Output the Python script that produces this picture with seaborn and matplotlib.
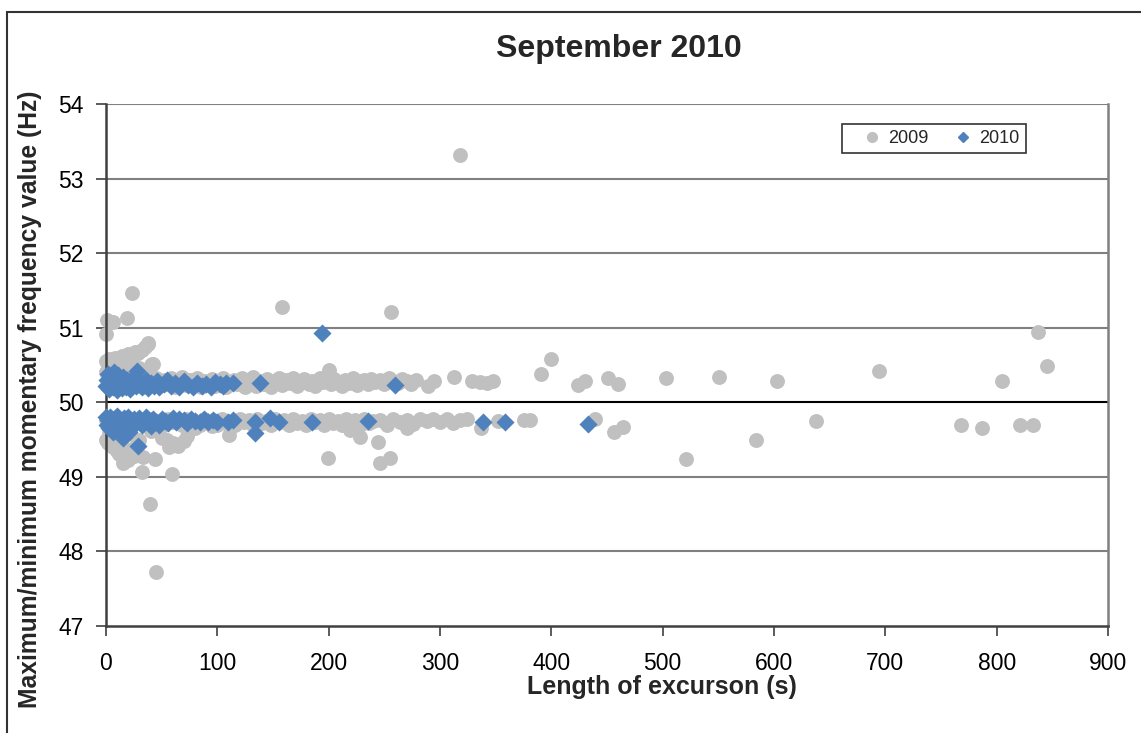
import matplotlib
matplotlib.use('Agg')
import matplotlib.pyplot as plt
import numpy as np
import pandas as pd
import seaborn as sns
from matplotlib.lines import Line2D
from matplotlib.patches import Rectangle

# 2009 excursions: length (s), max/min momentary frequency (Hz)
x_2009 = [
    # high outliers
    0.6, 6, 18.6, 23, 0, 38, 41, 158, 256, 318, 837, 845,
    # rising cloud near zero above the band
    0, 3, 6, 8, 11, 14, 17, 20, 23, 26, 29, 32, 35, 38,
    0, 5, 10, 15, 20, 25, 30, 35, 40, 42,
    # upper band
    2, 8, 14, 20, 26, 32, 38,
    45, 48, 52, 55, 58, 62, 65, 68, 72, 75, 78, 82, 85, 88, 92, 95, 98,
    102, 105, 108, 112, 115, 118, 122, 125, 128, 132, 135, 138, 142, 145,
    148, 152, 155, 158, 162, 165, 168, 172, 175, 178, 182, 185, 188, 192,
    195, 198, 200, 202, 205, 208, 212, 215, 218, 222, 225, 228, 232, 235,
    238, 242, 246, 250, 254, 258, 262, 266, 270, 274, 278, 289, 295, 313,
    329, 336, 342, 348, 391, 400, 424, 430, 451, 460, 503, 551, 603, 694,
    805,
    # lower band
    0, 4, 8, 12, 16, 20, 24, 28, 32, 36, 40, 44, 48, 52, 56, 60, 64, 68,
    72, 76, 80, 84, 88, 92, 96, 100, 104, 108, 112, 116, 120, 124, 128,
    132, 136, 140, 144, 148, 152, 156, 160, 164, 168, 172, 176, 180, 184,
    188, 192, 196, 200, 204, 208, 212, 216, 220, 224, 228, 232, 236, 240,
    246, 252, 258, 264, 270, 276, 282, 288, 294, 300, 306, 312, 318, 324,
    337, 352, 375, 381, 439,
    # fan below the lower band
    0, 2, 5, 6, 9, 10, 12, 14, 15, 17, 18, 20, 22, 25, 28, 30, 3, 8, 20,
    33, 44, 32, 59, 39.5, 45, 50, 55, 60, 65, 70, 73, 57, 40, 80, 95,
    110.5, 199.6, 246, 255, 244, 228, 219, 270, 456, 464, 521, 584, 638,
    768, 787, 821, 833,
]
y_2009 = [
    51.10, 51.07, 51.13, 51.46, 50.92, 50.80, 50.51, 51.28, 51.21, 53.32, 50.94, 50.49,
    50.55, 50.58, 50.50, 50.60, 50.57, 50.62, 50.60, 50.65, 50.63, 50.68, 50.66, 50.70, 50.74, 50.78,
    50.40, 50.45, 50.42, 50.48, 50.45, 50.50, 50.46, 50.42, 50.50, 50.52,
    50.30, 50.22, 50.33, 50.25, 50.31, 50.21, 50.28,
    50.33, 50.22, 50.30, 50.25, 50.32, 50.21, 50.28, 50.34, 50.23, 50.30, 50.26, 50.33, 50.20, 50.29, 50.24, 50.31, 50.22,
    50.28, 50.33, 50.21, 50.27, 50.30, 50.24, 50.32, 50.20, 50.27, 50.34, 50.22, 50.29, 50.25, 50.31,
    50.21, 50.28, 50.33, 50.23, 50.30, 50.26, 50.32, 50.22, 50.28, 50.31, 50.24, 50.29, 50.22, 50.32,
    50.27, 50.30, 50.43, 50.24, 50.31, 50.27, 50.22, 50.30, 50.26, 50.32, 50.23, 50.28, 50.30, 50.25,
    50.31, 50.27, 50.30, 50.24, 50.32, 50.28, 50.26, 50.31, 50.29, 50.25, 50.30, 50.22, 50.29, 50.34,
    50.28, 50.27, 50.26, 50.29, 50.38, 50.58, 50.23, 50.28, 50.33, 50.25, 50.33, 50.34, 50.29, 50.42,
    50.29,
    49.76, 49.70, 49.78, 49.72, 49.76, 49.69, 49.77, 49.73, 49.76, 49.70, 49.78, 49.72, 49.75, 49.69, 49.77, 49.73, 49.76, 49.70,
    49.78, 49.72, 49.75, 49.69, 49.77, 49.73, 49.76, 49.70, 49.78, 49.72, 49.75, 49.69, 49.77, 49.73, 49.76,
    49.70, 49.78, 49.72, 49.75, 49.69, 49.77, 49.73, 49.76, 49.70, 49.78, 49.72, 49.75, 49.69, 49.77,
    49.73, 49.76, 49.70, 49.78, 49.72, 49.75, 49.69, 49.77, 49.73, 49.76, 49.70, 49.78, 49.72, 49.75,
    49.76, 49.70, 49.77, 49.73, 49.76, 49.71, 49.77, 49.75, 49.77, 49.74, 49.77, 49.72, 49.76, 49.77,
    49.66, 49.75, 49.76, 49.76, 49.77,
    49.50, 49.45, 49.55, 49.40, 49.48, 49.35, 49.30, 49.42, 49.18, 49.25, 49.38, 49.22, 49.30, 49.28, 49.45, 49.50, 49.60, 49.62, 49.60,
    49.27, 49.24, 49.07, 49.04, 48.64, 47.73, 49.52, 49.50, 49.45, 49.42, 49.48, 49.55, 49.40, 49.62, 49.65, 49.68,
    49.56, 49.25, 49.18, 49.25, 49.47, 49.54, 49.63, 49.66, 49.60, 49.67, 49.24, 49.50, 49.75,
    49.69, 49.65, 49.70, 49.69,
]

# 2010 excursions
x_2010 = [
    # upper band
    0, 1, 2, 3, 4, 5, 6, 7, 8, 9, 10, 11, 12, 13, 14, 15, 16, 18, 19, 20,
    22, 24, 25, 27, 28, 30, 32, 34, 36, 38, 40, 43, 46, 48, 52, 55, 58, 62,
    66, 70, 74, 78, 82, 86, 90, 94, 98, 102, 105, 108, 114, 138, 194, 260,
    # lower band
    0, 1, 2, 3, 4, 5, 6, 7, 8, 9, 10, 11, 12, 13, 14, 15, 16, 17, 18, 20,
    21, 22, 24, 25, 27, 29, 30, 32, 34, 36, 38, 40, 42, 45, 48, 50, 53, 56,
    60, 63, 66, 70, 73, 76, 80, 84, 88, 92, 96, 100, 110, 114, 134, 134,
    147, 155, 185, 235, 338.6, 358.4, 433,
]
y_2010 = [
    50.22, 50.30, 50.38, 50.18, 50.27, 50.33, 50.20, 50.40, 50.25, 50.31, 50.17, 50.36, 50.23, 50.28, 50.19, 50.34, 50.26, 50.21, 50.30, 50.24,
    50.18, 50.33, 50.27, 50.22, 50.42, 50.29, 50.20, 50.25, 50.30, 50.19, 50.26, 50.22, 50.28, 50.20, 50.25, 50.30, 50.22, 50.26,
    50.20, 50.28, 50.23, 50.21, 50.26, 50.22, 50.24, 50.20, 50.27, 50.25, 50.22, 50.26, 50.26, 50.26, 50.93, 50.23,
    49.80, 49.70, 49.76, 49.65, 49.80, 49.72, 49.60, 49.78, 49.68, 49.74, 49.81, 49.62, 49.77, 49.70, 49.57, 49.52, 49.79, 49.66, 49.73, 49.80,
    49.60, 49.75, 49.69, 49.78, 49.72, 49.42, 49.79, 49.70, 49.76, 49.80, 49.73, 49.68, 49.77, 49.74, 49.70, 49.78, 49.75, 49.72,
    49.79, 49.74, 49.78, 49.76, 49.72, 49.78, 49.75, 49.74, 49.77, 49.73, 49.76, 49.74, 49.74, 49.76, 49.74, 49.59,
    49.79, 49.74, 49.73, 49.75, 49.73, 49.73, 49.71,
]

y_ticks = [47, 48, 49, 50, 51, 52, 53, 54]
x_ticks = [0, 100, 200, 300, 400, 500, 600, 700, 800, 900]

df_2009 = pd.DataFrame({'length': x_2009, 'freq': y_2009})
df_2010 = pd.DataFrame({'length': x_2010, 'freq': y_2010})

sns.set_style('white')
plt.rcParams['font.family'] = ['Liberation Sans', 'DejaVu Sans']

grey = '#C0C0C0'
blue = '#4F81BD'

fig = plt.figure(figsize=(11.41, 7.33), dpi=100)
ax = fig.add_axes([106 / 1141, 1 - 626 / 733, 1002 / 1141, 522 / 733])

for yv in y_ticks[1:]:
    ax.axhline(yv, color='#000000' if yv == 50 else '#808080', lw=1.5, zorder=1)

sns.scatterplot(data=df_2009, x='length', y='freq', ax=ax, color=grey, marker='o',
                s=115, linewidth=0, zorder=2, clip_on=False)
sns.scatterplot(data=df_2010, x='length', y='freq', ax=ax, color=blue, marker='D',
                s=85, linewidth=0, zorder=3, clip_on=False)

ax.set_xlim(0, 900)
ax.set_ylim(47, 54)
ax.set_xticks(x_ticks)
ax.set_yticks(y_ticks)
ax.tick_params(axis='both', direction='out', length=7, width=1.2, color='#404040',
               labelsize=16.5, labelcolor='black', pad=9, left=True, bottom=True)
ax.tick_params(axis='x', pad=12)

for side in ['left', 'bottom']:
    ax.spines[side].set_color('#404040')
    ax.spines[side].set_linewidth(1.8)
ax.spines['right'].set_color('#808080')
ax.spines['right'].set_linewidth(1.8)
ax.spines['top'].set_visible(False)

ax.set_xlabel('Length of excurson (s)', fontsize=18, fontweight='bold')
ax.xaxis.set_label_coords(0.555, -0.093)
ax.set_ylabel('Maximum/minimum momentary frequency value (Hz)', fontsize=17.7,
              fontweight='bold')
ax.yaxis.set_label_coords(-0.064, 0.435)
ax.set_title('September 2010', fontsize=23, fontweight='bold', x=0.512, pad=34)

handles = [
    Line2D([], [], marker='o', color=grey, linestyle='none', markersize=7),
    Line2D([], [], marker='D', color=blue, linestyle='none', markersize=5.5),
]
leg = ax.legend(handles, ['2009', '2010'], loc='upper right', ncol=2,
                bbox_to_anchor=(0.918, 0.962), fontsize=13, frameon=True,
                fancybox=False, handletextpad=-0.4, columnspacing=0.6,
                handlelength=2.6, borderpad=0.35, borderaxespad=0)
leg.get_frame().set_edgecolor('black')
leg.get_frame().set_linewidth(1.2)

# chart area border
fig.patches.append(Rectangle((7 / 1141, -0.05), 1.1, 1 - 12 / 733 + 0.05,
                             transform=fig.transFigure, fill=False,
                             edgecolor='#333333', lw=1.5))

fig.savefig('out.png', dpi=100)
